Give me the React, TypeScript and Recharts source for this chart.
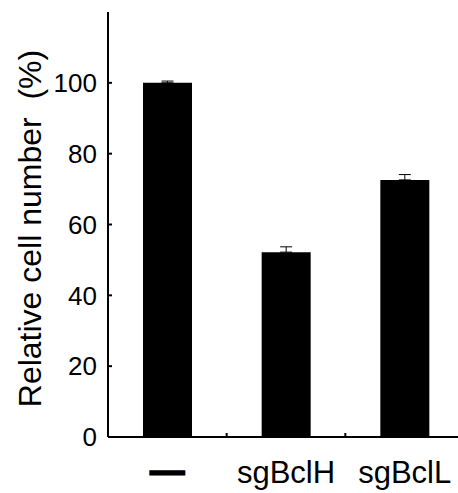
import React from 'react';
import { BarChart, Bar, XAxis, YAxis, ErrorBar } from 'recharts';

const categories = ['—', 'sgBclH', 'sgBclL'];
const values = [100, 52.2, 72.6];
const errors = [0.5, 1.5, 1.5];
const yTicks = [0, 20, 40, 60, 80, 100];
const boundaryTicks = [1, 2];
const yLabel = 'Relative cell number\u00a0\u00a0(%)';

const data = categories.map((c, i) => ({ name: c, value: values[i], err: [0, errors[i]], pos: i + 0.5 }));

const FONT = 'Liberation Sans, Arial, sans-serif';

const CatTick = (props: any) => {
  const { x, y, payload } = props;
  const isDash = payload.value === '—';
  if (isDash) {
    return (
      <text x={x} y={y + 43} textAnchor="middle" fontFamily={FONT} fontSize={33} fill="#000" stroke="#000" strokeWidth={3}>
        {payload.value}
      </text>
    );
  }
  return (
    <text x={x} y={y + 45} textAnchor="middle" fontFamily={FONT} fontSize={31} fill="#000">
      {payload.value}
    </text>
  );
};

export default function App() {
  return (
    <div style={{ position: 'absolute', left: 0, top: 0, width: 458, height: 493, overflow: 'hidden', background: '#fff' }}>
      <BarChart width={464} height={493} data={data} margin={{ top: 12, right: 0, left: 0, bottom: 0 }} barSize={49}>
        <XAxis
          xAxisId="a"
          type="number"
          dataKey="pos"
          domain={[0, 3]}
          ticks={boundaryTicks}
          allowDataOverflow
          height={1}
          axisLine={{ stroke: '#000', strokeWidth: 2 }}
          tickLine={{ stroke: '#000', strokeWidth: 2 }}
          tickSize={-4}
          tickFormatter={() => ''}
        />
        <XAxis
          xAxisId="b"
          dataKey="name"
          height={55}
          axisLine={false}
          tickLine={false}
          tickSize={0}
          tickMargin={0}
          interval={0}
          tick={<CatTick />}
        />
        <YAxis
          width={108}
          domain={[0, 120]}
          ticks={yTicks}
          axisLine={{ stroke: '#000', strokeWidth: 2 }}
          tickLine={{ stroke: '#000', strokeWidth: 2 }}
          tickSize={-4}
          tickMargin={15}
          tick={{ fill: '#000', fontSize: 26, fontFamily: FONT }}
          label={{ value: yLabel, angle: -90, position: 'center', dx: -24, dy: 4, style: { fontSize: 32, fontFamily: FONT, fill: '#000' } }}
        />
        <Bar dataKey="value" xAxisId="b" fill="#000" isAnimationActive={false}>
          <ErrorBar dataKey="err" direction="y" width={6} stroke="#000" strokeWidth={1} isAnimationActive={false} />
        </Bar>
      </BarChart>
    </div>
  );
}
